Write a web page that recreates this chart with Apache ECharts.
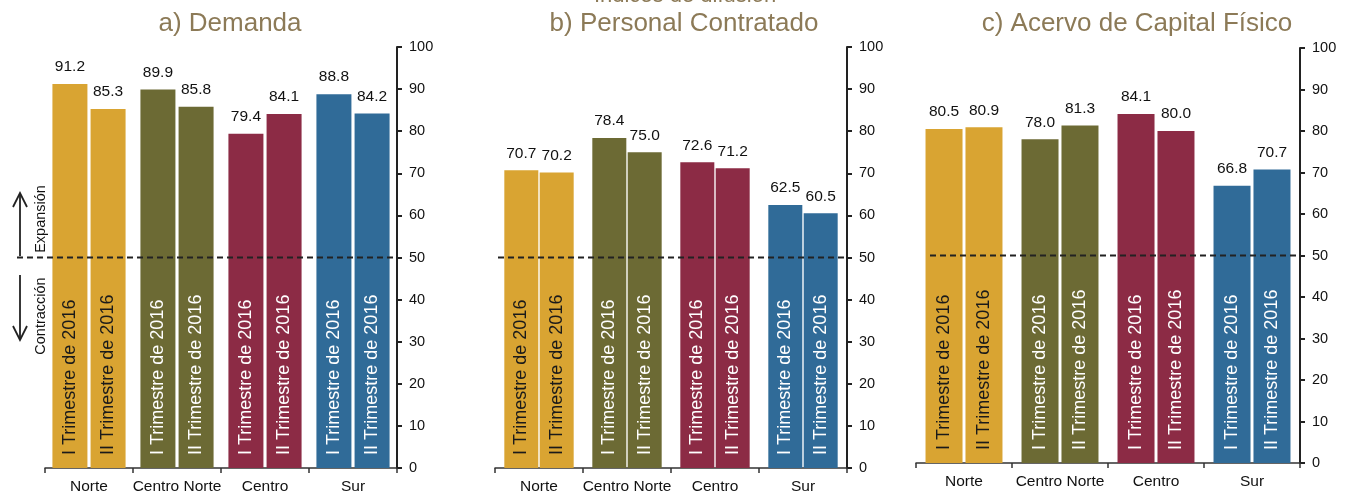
<!DOCTYPE html>
<html>
<head>
<meta charset="utf-8">
<title>Índices de difusión</title>
<script src="https://cdn.jsdelivr.net/npm/echarts@6/dist/echarts.min.js"></script>
<style>
  html, body { margin: 0; padding: 0; background: #fff; }
  #chart { width: 1354px; height: 497px; }
</style>
</head>
<body>
<div id="chart"></div>
<script>
const regiones = ['Norte', 'Centro Norte', 'Centro', 'Sur'];
const colores = ['#D9A432', '#6C6A34', '#8C2B45', '#306B98'];
const trimestres = ['I Trimestre de 2016', 'II Trimestre de 2016'];

// a) Demanda
const demandaI = [91.2, 89.9, 79.4, 88.8];
const demandaII = [85.3, 85.8, 84.1, 84.2];
// b) Personal Contratado
const personalI = [70.7, 78.4, 72.6, 62.5];
const personalII = [70.2, 75.0, 71.2, 60.5];
// c) Acervo de Capital Físico
const acervoI = [80.5, 78.0, 84.1, 66.8];
const acervoII = [80.9, 81.3, 80.0, 70.7];

const titulos = ['a) Demanda', 'b) Personal Contratado', 'c) Acervo de Capital Físico'];
const umbral = 50;

const font = '"Liberation Sans", Arial, sans-serif';
const tituloColor = '#8C7A57';
const ejeColor = '#222';

// layout per panel
const paneles = [
  { vI: demandaI, vII: demandaII, grid: { left: 45, right: 957, top: 47, bottom: 29 }, barWidth: 35, barGap: '9%', cx: 225, lineFrom: 17 },
  { vI: personalI, vII: personalII, grid: { left: 495, right: 507, top: 47, bottom: 29 }, barWidth: 34, barGap: '4%', cx: 679, lineFrom: 498 },
  { vI: acervoI, vII: acervoII, grid: { left: 916, right: 54, top: 48, bottom: 34 }, barWidth: 37, barGap: '8%', cx: 1132, lineFrom: 930 }
];

const chart = echarts.init(document.getElementById('chart'));

const grids = [], xAxes = [], yAxes = [], series = [];
const titles = [{
  text: 'Índices de difusión', left: 680, top: -20, textAlign: 'center',
  textStyle: { fontFamily: font, fontSize: 22, fontWeight: 'normal', color: tituloColor }
}];

paneles.forEach((p, k) => {
  grids.push(p.grid);
  titles.push({
    text: titulos[k], left: p.cx, top: 6, textAlign: 'center',
    textStyle: { fontFamily: font, fontSize: 26, fontWeight: 'normal', color: tituloColor }
  });
  xAxes.push({
    type: 'category', gridIndex: k, data: regiones,
    axisLine: { lineStyle: { color: '#333', width: 1.5 } },
    axisTick: { show: true, interval: 0, length: 5, lineStyle: { color: '#333', width: 1.5 } },
    axisLabel: { interval: 0, fontFamily: font, fontSize: 15.5, color: '#111', margin: 11 }
  });
  yAxes.push({
    type: 'value', gridIndex: k, position: 'right', min: 0, max: 100, interval: 10,
    axisLine: { show: true, lineStyle: { color: ejeColor, width: 2 } },
    axisTick: { show: true, length: 5, lineStyle: { color: ejeColor, width: 2 } },
    axisLabel: { fontFamily: font, fontSize: 14.5, color: '#111', margin: 12 },
    splitLine: { show: false }
  });

  [p.vI, p.vII].forEach((vals, q) => {
    // coloured bars with the rotated quarter text
    series.push({
      type: 'bar', xAxisIndex: k, yAxisIndex: k, stack: 'p' + k + 'q' + q,
      barWidth: p.barWidth, barGap: p.barGap,
      data: vals.map((v, i) => ({
        value: v,
        itemStyle: { color: colores[i] },
        label: { color: i === 0 ? '#1a1a1a' : '#fff' }
      })),
      label: {
        show: true, position: 'insideBottom', rotate: 90, align: 'left', verticalAlign: 'middle',
        distance: 13, formatter: trimestres[q], fontFamily: font, fontSize: 18
      }
    });
    // empty bar on top, only to carry the value label
    series.push({
      type: 'bar', xAxisIndex: k, yAxisIndex: k, stack: 'p' + k + 'q' + q,
      barWidth: p.barWidth, barGap: p.barGap,
      data: vals.map(() => 0),
      itemStyle: { color: 'transparent' },
      label: {
        show: true, position: 'top', distance: 9,
        formatter: (d) => vals[d.dataIndex].toFixed(1),
        fontFamily: font, fontSize: 15.5, color: '#111'
      }
    });
  });
});

chart.setOption({
  animation: false,
  title: titles,
  grid: grids,
  xAxis: xAxes,
  yAxis: yAxes,
  series: series
});

// dashed 50 line + expansion / contraction note
const graphics = [];
paneles.forEach((p, k) => {
  const y = chart.convertToPixel({ yAxisIndex: k }, umbral);
  const xEnd = 1354 - p.grid.right;
  graphics.push({
    type: 'line', z: 10, silent: true,
    shape: { x1: p.lineFrom, y1: y, x2: xEnd, y2: y },
    style: { stroke: '#222', lineWidth: 2, lineDash: [6, 4] }
  });
});

const arrowStyle = { stroke: '#222', lineWidth: 1.8, fill: null };
graphics.push(
  { type: 'line', shape: { x1: 20, y1: 193, x2: 20, y2: 256 }, style: arrowStyle },
  { type: 'polyline', shape: { points: [[13, 207], [20, 193], [27, 207]] }, style: arrowStyle },
  { type: 'line', shape: { x1: 20, y1: 275, x2: 20, y2: 340 }, style: arrowStyle },
  { type: 'polyline', shape: { points: [[13, 326], [20, 340], [27, 326]] }, style: arrowStyle },
  {
    type: 'text', x: 41, y: 219, rotation: Math.PI / 2,
    style: { text: 'Expansión', fontFamily: font, fontSize: 14.5, fill: '#111', align: 'center', verticalAlign: 'middle' }
  },
  {
    type: 'text', x: 41, y: 316, rotation: Math.PI / 2,
    style: { text: 'Contracción', fontFamily: font, fontSize: 14.5, fill: '#111', align: 'center', verticalAlign: 'middle' }
  }
);

chart.setOption({ graphic: graphics });
</script>
</body>
</html>
